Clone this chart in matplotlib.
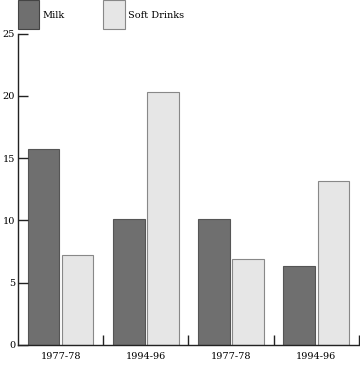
import matplotlib.pyplot as plt
from matplotlib.patches import Rectangle

# donnees
periodes = ["1977-78", "1994-96", "1977-78", "1994-96"]
milk = [15.7, 10.1, 10.1, 6.3]
soft_drinks = [7.2, 20.3, 6.9, 13.2]

c_milk = "#6f6f6f"
c_soft = "#e6e6e6"

plt.rcParams["font.family"] = ["DejaVu Serif"]

fig = plt.figure(figsize=(3.6, 3.65), dpi=100)
ax = fig.add_axes([0.05, 0.055, 0.947, 0.853])

x = range(len(periodes))
w = 0.37
ax.bar([i + 0.30 for i in x], milk, width=w, color=c_milk, edgecolor="#555555", linewidth=0.8)
ax.bar([i + 0.70 for i in x], soft_drinks, width=w, color=c_soft, edgecolor="#888888", linewidth=0.8)

ax.set_xlim(0, 4)
ax.set_ylim(0, 25)
ax.set_yticks([0, 5, 10, 15, 20, 25])
ax.set_xticks([1, 2, 3, 4])
ax.set_xticklabels([])
ax.set_xticks([i + 0.5 for i in x], minor=True)
ax.set_xticklabels(periodes, minor=True)
ax.tick_params(axis="x", which="major", direction="in", length=7, width=1, color="#222222")
ax.tick_params(axis="x", which="minor", length=0, labelsize=7, pad=5)
ax.tick_params(axis="y", direction="in", length=7, width=1, labelsize=7, pad=2, color="#222222")

for s in ["top", "right"]:
    ax.spines[s].set_visible(False)
for s in ["left", "bottom"]:
    ax.spines[s].set_linewidth(1)
    ax.spines[s].set_color("#222222")

# legende faite a la main
fig.patches.append(Rectangle((18 / 360, 1 - 29 / 365), 21 / 360, 29 / 365,
                             transform=fig.transFigure, facecolor=c_milk, edgecolor="#444444", linewidth=0.8))
fig.text(42 / 360, 1 - 16 / 365, "Milk", fontsize=7, va="center")
fig.patches.append(Rectangle((103 / 360, 1 - 29 / 365), 22 / 360, 29 / 365,
                             transform=fig.transFigure, facecolor=c_soft, edgecolor="#888888", linewidth=0.8))
fig.text(128 / 360, 1 - 16 / 365, "Soft Drinks", fontsize=7, va="center")

fig.savefig("out.png", dpi=100)
